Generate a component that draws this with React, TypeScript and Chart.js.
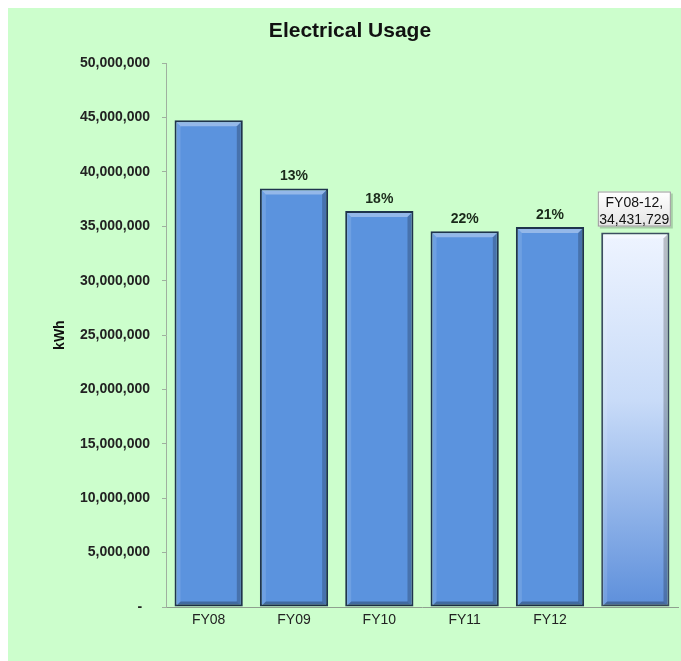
import React, { useEffect, useRef } from 'react';
import { Chart, registerables } from 'chart.js';

Chart.register(...registerables);

const categories = ['FY08', 'FY09', 'FY10', 'FY11', 'FY12', ''];
const usageKWh = [44750000, 38480000, 36400000, 34560000, 34930000, 34431729];
const reductionLabels = ['', '13%', '18%', '22%', '21%', ''];
const baselineLabelLines = ['FY08-12,', '34,431,729'];
const yMin = 0;
const yMax = 50000000;
const yStep = 5000000;

const FONT = '"Liberation Sans", Arial, sans-serif';
const BAR_BLUE = '#5b93de';
const BAR_BORDER = '#1f344d';

const bevelPlugin = {
  id: 'bevel',
  afterDatasetsDraw(chart: any) {
    const ctx = chart.ctx;
    const meta = chart.getDatasetMeta(0);
    meta.data.forEach((bar: any) => {
      const p = bar.getProps(['x', 'y', 'base', 'width'], true);
      const l = p.x - p.width / 2 + 2;
      const r = p.x + p.width / 2 - 2;
      const t = p.y + 2;
      const b = p.base - 1;
      const d = 4;
      ctx.save();
      const poly = (pts: number[][], color: string) => {
        ctx.beginPath();
        ctx.moveTo(pts[0][0], pts[0][1]);
        for (let i = 1; i < pts.length; i++) ctx.lineTo(pts[i][0], pts[i][1]);
        ctx.closePath();
        ctx.fillStyle = color;
        ctx.fill();
      };
      poly([[l, t], [r, t], [r - d, t + d], [l + d, t + d]], 'rgba(255,255,255,0.35)');
      poly([[l, t], [l + d, t + d], [l + d, b - d], [l, b]], 'rgba(255,255,255,0.12)');
      poly([[r, t], [r, b], [r - d, b - d], [r - d, t + d]], 'rgba(0,0,0,0.22)');
      poly([[l, b], [r, b], [r - d, b - d], [l + d, b - d]], 'rgba(0,0,0,0.28)');
      ctx.restore();
    });
  },
};

const labelPlugin = {
  id: 'barLabels',
  afterDatasetsDraw(chart: any) {
    const ctx = chart.ctx;
    const meta = chart.getDatasetMeta(0);
    ctx.save();
    meta.data.forEach((bar: any, i: number) => {
      const txt = reductionLabels[i];
      if (!txt) return;
      const p = bar.getProps(['x', 'y'], true);
      ctx.font = `bold 14px ${FONT}`;
      ctx.fillStyle = '#1b2a1b';
      ctx.textAlign = 'center';
      ctx.textBaseline = 'alphabetic';
      ctx.fillText(txt, p.x, p.y - 8);
    });
    const last = meta.data[meta.data.length - 1];
    if (last) {
      const p = last.getProps(['x', 'y'], true);
      const w = 73;
      const h = 35;
      const left = p.x - w / 2 - 1;
      const top = p.y - 41;
      const g = ctx.createLinearGradient(0, top, 0, top + h);
      g.addColorStop(0, '#ffffff');
      g.addColorStop(1, '#e4e4e4');
      ctx.fillStyle = 'rgba(0,0,0,0.18)';
      ctx.fillRect(left + 2, top + 2, w, h);
      ctx.fillStyle = g;
      ctx.fillRect(left, top, w, h);
      ctx.strokeStyle = '#9a9a9a';
      ctx.lineWidth = 1;
      ctx.strokeRect(left + 0.5, top + 0.5, w - 1, h - 1);
      ctx.font = `14px ${FONT}`;
      ctx.fillStyle = '#111';
      ctx.textAlign = 'center';
      ctx.fillText(baselineLabelLines[0], left + w / 2, top + 15);
      ctx.fillText(baselineLabelLines[1], left + w / 2, top + 32);
    }
    ctx.restore();
  },
};

export default function App() {
  const ref = useRef<HTMLCanvasElement | null>(null);

  useEffect(() => {
    if (!ref.current) return;
    const chart = new Chart(ref.current, {
      type: 'bar',
      data: {
        labels: categories,
        datasets: [
          {
            label: 'kWh',
            data: usageKWh,
            backgroundColor: (c: any) => {
              if (c.dataIndex !== usageKWh.length - 1) return BAR_BLUE;
              const ch = c.chart;
              const area = ch.chartArea;
              if (!area || !ch.scales.y) return '#a9c4ee';
              const top = ch.scales.y.getPixelForValue(usageKWh[usageKWh.length - 1]);
              const g = ch.ctx.createLinearGradient(0, top, 0, area.bottom);
              g.addColorStop(0, '#eef4ff');
              g.addColorStop(0.45, '#c8dbf8');
              g.addColorStop(1, '#5d8fdb');
              return g;
            },
            borderColor: (c: any) => (c.dataIndex === usageKWh.length - 1 ? '#3c4d61' : BAR_BORDER),
            borderWidth: 2,
            borderSkipped: false,
            categoryPercentage: 1,
            barPercentage: 0.8,
          },
        ],
      },
      options: {
        responsive: false,
        animation: false,
        layout: { padding: { left: 14, right: 3, top: 0, bottom: 24 } },
        plugins: {
          legend: { display: false },
          tooltip: { enabled: false },
          title: {
            display: true,
            text: 'Electrical Usage',
            color: '#111',
            font: { family: FONT, size: 21, weight: 'bold' },
            padding: { top: 11, bottom: 19 },
          },
        },
        scales: {
          x: {
            grid: { display: false, drawTicks: false, drawOnChartArea: false },
            border: { display: true, color: '#8fa08f', width: 1 },
            ticks: {
              color: '#222',
              font: { family: FONT, size: 14 },
              padding: 5,
              maxRotation: 0,
            },
            afterFit: (s: any) => {
              s.height = 30;
            },
          },
          y: {
            min: yMin,
            max: yMax,
            grid: {
              drawOnChartArea: false,
              drawTicks: true,
              tickLength: 4,
              color: '#9fb09f',
            },
            border: { display: true, color: '#9fb09f', width: 1 },
            ticks: {
              stepSize: yStep,
              color: '#222',
              font: { family: FONT, size: 14, weight: 'bold' },
              padding: 12,
              callback: (v: any) => (Number(v) === 0 ? '-  ' : Number(v).toLocaleString('en-US')),
            },
            title: {
              display: true,
              text: 'kWh',
              color: '#111',
              font: { family: FONT, size: 14, weight: 'bold' },
              padding: { top: 30, bottom: 0 },
            },
            afterFit: (s: any) => {
              s.width = 144;
            },
          },
        },
      },
      plugins: [bevelPlugin, labelPlugin],
    });
    return () => chart.destroy();
  }, []);

  return (
    <div
      style={{
        position: 'absolute',
        left: 8,
        top: 8,
        width: 673,
        height: 653,
        overflow: 'hidden',
        background: '#ccfecc',
      }}
    >
      <canvas ref={ref} width={673} height={653} style={{ display: 'block' }} />
    </div>
  );
}
